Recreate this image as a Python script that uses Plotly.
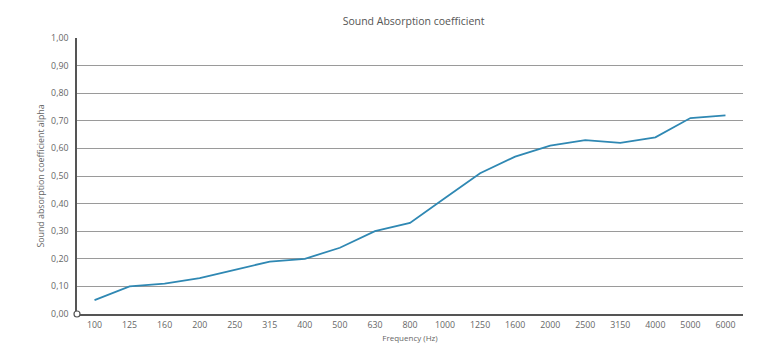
import plotly.graph_objects as go

frequencies = ["100", "125", "160", "200", "250", "315", "400", "500", "630", "800",
               "1000", "1250", "1600", "2000", "2500", "3150", "4000", "5000", "6000"]
alpha = [0.05, 0.10, 0.11, 0.13, 0.16, 0.19, 0.20, 0.24, 0.30, 0.33,
         0.42, 0.51, 0.57, 0.61, 0.63, 0.62, 0.64, 0.71, 0.72]
y_ticks = [0.0, 0.1, 0.2, 0.3, 0.4, 0.5, 0.6, 0.7, 0.8, 0.9, 1.0]
y_tick_labels = ["0,00", "0,10", "0,20", "0,30", "0,40", "0,50", "0,60", "0,70", "0,80", "0,90", "1,00"]

font_family = "Open Sans, Noto Sans, sans-serif"

fig = go.Figure()
fig.add_trace(go.Scatter(
    x=frequencies, y=alpha, mode="lines",
    line=dict(color="#2f88b3", width=1.8),
    showlegend=False, hoverinfo="x+y",
))

# page body has an 8px default margin, so the figure is sized to fit the window
fig.update_layout(
    width=774, height=348,
    margin=dict(l=69, r=39, t=30, b=42, autoexpand=False),
    paper_bgcolor="white", plot_bgcolor="white",
    font=dict(family=font_family, color="#666666", size=8),
    title=dict(text="Sound Absorption coefficient", x=0.524, xanchor="center",
               y=0.9626, yref="container", yanchor="middle",
               font=dict(family=font_family, size=10.5, color="#555555")),
    xaxis=dict(
        type="category", range=[-0.5, 18.5], automargin=False,
        showgrid=False, showline=True, linecolor="#555555", linewidth=1.5,
        ticks="", ticklabelstandoff=2, tickfont=dict(size=8.8, color="#666666"),
        title=dict(text="Frequency (Hz)", font=dict(size=8, color="#666666"), standoff=5),
        zeroline=False, fixedrange=True,
    ),
    yaxis=dict(
        range=[0, 1.0], tickvals=y_ticks, ticktext=y_tick_labels, automargin=False,
        showgrid=True, gridcolor="#9a9a9a", gridwidth=1.2,
        showline=True, linecolor="#555555", linewidth=1.5,
        ticks="", ticklabelstandoff=5, tickfont=dict(size=8.8, color="#666666"),
        title=dict(text="Sound absorption coefficient alpha", font=dict(size=8.8, color="#666666"), standoff=5),
        zeroline=False, fixedrange=True,
    ),
)

fig.add_shape(type="circle", xref="paper", yref="paper",
              xsizemode="pixel", ysizemode="pixel",
              xanchor=0, yanchor=0,
              x0=-3, x1=3, y0=-3, y1=3,
              line=dict(color="#555555", width=1.2), fillcolor="white", layer="above")

fig.write_html("out.html")
